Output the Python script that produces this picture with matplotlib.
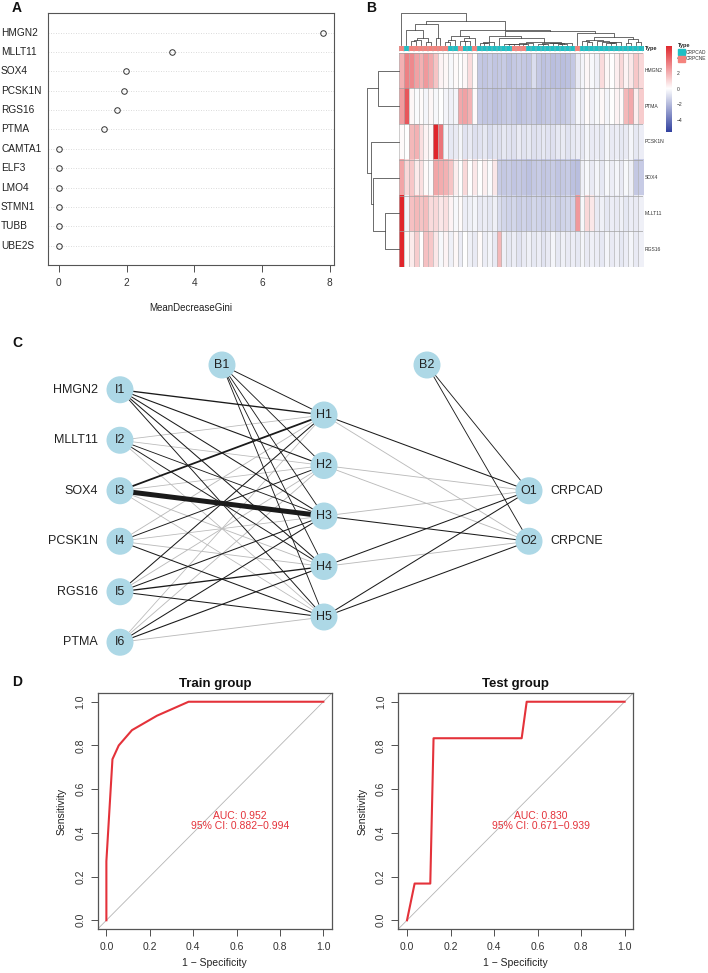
import numpy as np
import matplotlib
matplotlib.use('Agg')
import matplotlib.pyplot as plt
from matplotlib.colors import LinearSegmentedColormap, ListedColormap
from matplotlib.patches import Circle, Rectangle
from matplotlib.transforms import blended_transform_factory

plt.rcParams['font.family'] = ['Liberation Sans', 'DejaVu Sans']

# ---------------- data ----------------
# A: random forest importance
gini_genes = ['HMGN2', 'MLLT11', 'SOX4', 'PCSK1N', 'RGS16', 'PTMA',
              'CAMTA1', 'ELF3', 'LMO4', 'STMN1', 'TUBB', 'UBE2S']
gini_values = [7.81, 3.34, 1.99, 1.92, 1.73, 1.33, 0, 0, 0, 0, 0, 0]

# B: heatmap (rows in clustered order, 50 samples)
heat_genes = ['HMGN2', 'PTMA', 'PCSK1N', 'SOX4', 'MLLT11', 'RGS16']
hmgn2 = [2.0, 3.2, 3.0, 2.4, 2.0, 2.6, 2.2, 1.5, 0.3, 0.2,
         -0.2, 0.1, 0.0, 0.2, 0.9, 0.1, -1.6, -1.7, -1.5, -1.7,
         -1.6, -1.5, -1.8, -1.6, -1.5, -1.6, -1.7, -1.0, -1.6, -1.8,
         -1.7, -1.9, -1.8, -1.9, -1.8, -1.6, -0.6, -0.3, 0.2, -0.2,
         -0.4, 0.9, 0.2, 0.0, 0.4, 1.0, 0.3, 0.6, 1.4, 1.0]
ptma = [2.5, 4.3, 0.2, -0.1, 0.1, -0.3, 0.2, -0.2, 0.0, -0.3,
        -0.4, -0.3, 2.2, 2.4, 2.0, 0.1, -1.5, -1.7, -1.6, -1.8,
        -1.7, -1.6, -1.5, -1.6, -1.8, -1.7, -1.6, -1.5, -1.8, -1.7,
        -1.6, -1.5, -1.7, -1.6, -1.4, -1.1, -0.3, -0.5, 0.1, -0.4,
        -0.2, 0.2, -0.3, 0.0, 0.3, 0.1, 1.8, 2.2, 0.4, 1.3]
pcsk1n = [0.1, 0.0, 1.8, 2.0, 0.8, 0.3, 0.2, 5.6, 3.5, -0.3,
          -0.7, -0.6, -0.3, -0.8, -0.6, -0.9, -0.8, -0.7, -1.0, -0.8,
          -0.9, -0.7, -0.8, -0.9, -0.6, -0.8, -0.7, -0.9, -0.8, -0.7,
          -0.8, -0.9, -0.7, -0.6, -0.8, -0.7, -0.5, -0.7, -0.3, -0.6,
          -0.5, -0.7, -0.3, -0.6, -0.5, -0.7, -0.6, -0.3, -0.7, -0.5]
sox4 = [2.3, 1.0, 1.4, 0.5, 0.8, 0.1, -0.1, 2.3, 2.1, 2.0,
        1.5, 0.4, 0.0, 1.0, 0.0, 0.6, 0.0, 0.4, -0.1, 0.6,
        -1.5, -1.6, -1.5, -1.7, -1.6, -1.7, -1.8, -1.6, -1.5, -1.7,
        -1.6, -1.5, -1.7, -1.6, -1.5, -1.8, -1.9, -0.4, -0.2, -0.6,
        -0.3, -0.7, -0.2, -0.5, -0.3, -0.6, -0.2, -0.4, -1.6, -1.5]
mllt11 = [5.6, -0.3, 1.6, 1.8, 1.5, 1.7, 0.9, 1.0, 0.6, 0.8,
          0.3, -0.2, 0.1, -0.5, -0.4, -0.3, -0.6, -0.5, -0.7, -0.4,
          -1.0, -1.2, -1.3, -1.2, -1.4, -1.3, -1.4, -1.2, -1.3, -1.4,
          -1.3, -1.2, -1.4, -1.3, -1.2, -1.3, 2.6, -0.2, 1.0, 0.6,
          -0.6, -0.4, -0.7, -0.5, -0.6, -0.4, -0.7, -0.5, -0.6, -0.4]
rgs16 = [5.6, 0.1, 0.5, 1.3, 0.0, 1.6, 1.4, 0.6, -0.2, 0.3,
         -0.4, 0.2, -0.5, 0.0, -0.4, -0.6, 0.1, -0.5, -0.3, -0.6,
         1.8, -0.4, -0.7, -0.5, -0.8, -0.6, -0.4, -0.7, -0.5, -0.8,
         -0.6, -0.3, -0.7, -0.4, -0.6, -0.5, -0.7, -0.3, -0.6, -0.4,
         -0.5, -0.7, -0.3, -0.6, -0.4, -0.7, -0.5, -0.3, -0.6, -0.4]
# sample type: N = CRPCNE, A = CRPCAD
col_type = list('NANNNNNNNNAANAANAAAAAAANNNAAAAAAAAAANAAAAAAAAAAAAA')
type_names = {'A': 'CRPCAD', 'N': 'CRPCNE'}
# row dendrogram merges (left id, right id, height); ids >= 6 are merged clusters
row_links = [(4, 5, 0.44), (0, 1, 0.66), (3, 6, 0.81), (2, 8, 0.88), (7, 9, 1.0)]

# C: neural network
input_genes = ['HMGN2', 'MLLT11', 'SOX4', 'PCSK1N', 'RGS16', 'PTMA']
out_classes = ['CRPCAD', 'CRPCNE']
w_ih = [[1.2, 0.9, 0.8, 0.8, 0.7],
        [-0.5, -0.5, 0.6, 0.7, -0.5],
        [1.8, -0.5, 6.0, -0.6, -0.5],
        [-0.6, 0.7, -0.5, -0.6, 0.8],
        [0.8, -0.6, 0.8, 1.2, 0.8],
        [-0.5, -0.6, 0.8, 0.9, -0.6]]
w_b1 = [0.7, 0.6, 0.6, 0.6, 0.6]
w_ho = [[0.8, -0.6],
        [-0.6, -0.6],
        [-0.6, 0.8],
        [0.8, -0.6],
        [0.8, 0.8]]
w_b2 = [0.6, 0.6]

# D: ROC curves
train_fpr = [0, 0, 0.028, 0.057, 0.118, 0.233, 0.379, 1.0]
train_tpr = [0, 0.27, 0.737, 0.80, 0.87, 0.936, 1.0, 1.0]
test_fpr = [0, 0.035, 0.107, 0.122, 0.527, 0.55, 1.0]
test_tpr = [0, 0.168, 0.168, 0.833, 0.833, 1.0, 1.0]
train_auc = 'AUC: 0.952\n95% CI: 0.882\u22120.994'
test_auc = 'AUC: 0.830\n95% CI: 0.671\u22120.939'

# ---------------- figure ----------------
W, H = 708, 973
fig = plt.figure(figsize=(W / 100, H / 100), dpi=100)


def add_ax(x0, y0, x1, y1):
    return fig.add_axes([x0 / W, 1 - y1 / H, (x1 - x0) / W, (y1 - y0) / H])


def ftext(x, y, s, **kw):
    fig.text(x / W, 1 - y / H, s, **kw)


GRAY = '#555555'

# ---- A ----
axA = add_ax(48.3, 13.3, 334, 265)
n = len(gini_genes)
ypos = np.arange(n, 0, -1)
for y in ypos:
    axA.axhline(y, color='#cfcfcf', lw=0.6, ls=(0, (1, 2)), zorder=0)
axA.plot(gini_values, ypos, 'o', mfc='none', mec='#333333', ms=4, mew=0.7)
pad = 0.04 * (max(gini_values) - min(gini_values))
axA.set_xlim(min(gini_values) - pad, max(gini_values) + pad)
axA.set_ylim(0, n + 1)
axA.set_yticks([])
axA.set_xticks([0, 2, 4, 6, 8])
axA.tick_params(axis='x', direction='out', length=5, width=0.6, pad=4,
                labelsize=7.3, colors='#333333')
for s in axA.spines.values():
    s.set_color(GRAY)
    s.set_linewidth(0.8)
trA = blended_transform_factory(fig.transFigure, axA.transData)
for g, y in zip(gini_genes, ypos):
    axA.text(1 / W, y, g, transform=trA, ha='left', va='center', fontsize=7.3, color='#222222')
ftext(191, 308, 'MeanDecreaseGini', ha='center', va='center', fontsize=7, color='#222222')

# ---- B ----
M = np.array([hmgn2, ptma, pcsk1n, sox4, mllt11, rgs16])
nr, nc = M.shape
cmap = LinearSegmentedColormap.from_list('bwr2', ['#3242A0', '#FFFFFF', '#E0252B'])
vlim = 5.6
grid_col = '#b2b2b2'

axH = add_ax(399, 52.7, 643, 267)
axH.imshow(M, cmap=cmap, vmin=-vlim, vmax=vlim, aspect='auto', interpolation='nearest',
           extent=[0, nc, nr, 0])
for c in range(nc + 1):
    axH.axvline(c, color=grid_col, lw=0.45)
for r in range(nr + 1):
    axH.axhline(r, color='#a0a0a0', lw=0.5)
axH.set_xlim(0, nc)
axH.set_ylim(nr, 0)
axH.axis('off')
for i, g in enumerate(heat_genes):
    axH.text(nc + 0.4, i + 0.5, g, ha='left', va='center', fontsize=3.6, color='#333333')

type_cols = {'A': '#1FBFC4', 'N': '#F4837D'}
axT = add_ax(399, 45.5, 643, 51.5)
tv = np.array([[0 if t == 'A' else 1 for t in col_type]])
axT.imshow(tv, cmap=ListedColormap([type_cols['A'], type_cols['N']]), vmin=0, vmax=1,
           aspect='auto', interpolation='nearest', extent=[0, nc, 1, 0])
for c in range(nc + 1):
    axT.axvline(c, color=grid_col, lw=0.35)
axT.set_xlim(0, nc)
axT.axis('off')
ftext(645, 48.5, 'Type', ha='left', va='center', fontsize=4, fontweight='bold', color='#222222')


def adj_linkage(X):
    # complete-linkage clustering restricted to neighbouring clusters (keeps the order)
    clusters = [[i] for i in range(len(X))]
    ids = list(range(len(X)))
    links = []
    nxt = len(X)
    while len(clusters) > 1:
        best = None
        for k in range(len(clusters) - 1):
            d = max(np.linalg.norm(X[i] - X[j]) for i in clusters[k] for j in clusters[k + 1])
            if best is None or d < best[0]:
                best = (d, k)
        d, k = best
        links.append((ids[k], ids[k + 1], d))
        clusters[k:k + 2] = [clusters[k] + clusters[k + 1]]
        ids[k:k + 2] = [nxt]
        nxt += 1
    return links


def draw_dendro(ax, links, nleaf, orient):
    pos = {i: i + 0.5 for i in range(nleaf)}
    hgt = {i: 0.0 for i in range(nleaf)}
    nid = nleaf
    for a, b, h in links:
        xs = [pos[a], pos[a], pos[b], pos[b]]
        ys = [hgt[a], h, h, hgt[b]]
        if orient == 'top':
            ax.plot(xs, ys, color='#444444', lw=0.55, clip_on=False)
        else:
            ax.plot(ys, xs, color='#444444', lw=0.55, clip_on=False)
        pos[nid] = (pos[a] + pos[b]) / 2
        hgt[nid] = h
        nid += 1


col_links = adj_linkage(M.T)
axCD = add_ax(399, 13, 643, 45)
draw_dendro(axCD, col_links, nc, 'top')
axCD.set_xlim(0, nc)
axCD.set_ylim(0, max(l[2] for l in col_links))
axCD.axis('off')

axRD = add_ax(355, 52.7, 399, 267)
draw_dendro(axRD, row_links, nr, 'left')
axRD.set_xlim(max(l[2] for l in row_links) * 44 / 32, 0)
axRD.set_ylim(nr, 0)
axRD.axis('off')

# colour key
axK = add_ax(666, 46, 671.5, 132.5)
grad = np.linspace(-vlim, vlim, 200).reshape(-1, 1)
axK.imshow(grad, cmap=cmap, vmin=-vlim, vmax=vlim, aspect='auto', origin='lower',
           extent=[0, 1, -vlim, vlim])
axK.axis('off')
for v in [4, 2, 0, -2, -4]:
    axK.text(1.9, v, '\u2212%d' % abs(v) if v < 0 else str(v), ha='left', va='center',
             fontsize=3.6, color='#333333')

ftext(678, 46, 'Type', ha='left', va='center', fontsize=4, fontweight='bold', color='#222222')
for k, code in enumerate(['A', 'N']):
    y0 = 49 + k * 7
    fig.patches.append(Rectangle((678 / W, 1 - (y0 + 6) / H), 6.5 / W, 6 / H,
                                 transform=fig.transFigure, color=type_cols[code]))
    ftext(686, y0 + 3, type_names[code], ha='left', va='center', fontsize=3.5, color='#333333')

# ---- C ----
axN = add_ax(0, 330, 708, 660)
axN.set_xlim(0, 708)
axN.set_ylim(660, 330)
axN.axis('off')
x_in, x_b1, x_hid, x_b2, x_out = 120, 222, 324, 427, 529
yc, dy, y_bias = 516, 50.5, 365


def layer_y(k):
    return [yc + (i - (k - 1) / 2) * dy for i in range(k)]


in_xy = [(x_in, y) for y in layer_y(len(input_genes))]
hid_xy = [(x_hid, y) for y in layer_y(len(w_b1))]
out_xy = [(x_out, y) for y in layer_y(len(out_classes))]
b1_xy = (x_b1, y_bias)
b2_xy = (x_b2, y_bias)


def edge(p, q, w):
    col = '#1a1a1a' if w > 0 else '#bababa'
    axN.plot([p[0], q[0]], [p[1], q[1]], color=col, lw=0.3 + 0.55 * abs(w),
             zorder=1 if w < 0 else 2, solid_capstyle='butt')


for i, p in enumerate(in_xy):
    for j, q in enumerate(hid_xy):
        edge(p, q, w_ih[i][j])
for j, q in enumerate(hid_xy):
    edge(b1_xy, q, w_b1[j])
for j, p in enumerate(hid_xy):
    for k, q in enumerate(out_xy):
        edge(p, q, w_ho[j][k])
for k, q in enumerate(out_xy):
    edge(b2_xy, q, w_b2[k])


def node(xy, label):
    axN.add_patch(Circle(xy, 13.5, color='#ADD8E6', zorder=5, lw=0))
    axN.text(xy[0], xy[1], label, ha='center', va='center', fontsize=9, color='#222222', zorder=6)


for i, p in enumerate(in_xy):
    node(p, 'I%d' % (i + 1))
    axN.text(p[0] - 22, p[1], input_genes[i], ha='right', va='center', fontsize=9, color='#222222')
for j, p in enumerate(hid_xy):
    node(p, 'H%d' % (j + 1))
for k, p in enumerate(out_xy):
    node(p, 'O%d' % (k + 1))
    axN.text(p[0] + 21, p[1], out_classes[k], ha='left', va='center', fontsize=9, color='#222222')
node(b1_xy, 'B1')
node(b2_xy, 'B2')

# ---- D ----
def roc_panel(box, fpr, tpr, title, auc_text):
    ax = add_ax(*box)
    ax.plot([-0.1, 1.1], [-0.1, 1.1], color='#b5b5b5', lw=0.6)
    ax.plot(fpr, tpr, color='#E4323A', lw=1.5)
    ax.set_xlim(-0.04, 1.04)
    ax.set_ylim(-0.04, 1.04)
    ticks = [0, 0.2, 0.4, 0.6, 0.8, 1.0]
    ax.set_xticks(ticks)
    ax.set_yticks(ticks)
    ax.set_xticklabels(['%.1f' % t for t in ticks])
    ax.set_yticklabels(['%.1f' % t for t in ticks], rotation=90, va='center')
    ax.tick_params(direction='out', length=5, width=0.6, pad=4, labelsize=7.5, colors='#333333')
    for s in ax.spines.values():
        s.set_color(GRAY)
        s.set_linewidth(0.9)
    ax.set_xlabel('1 \u2212 Specificity', fontsize=7.5, labelpad=5, color='#222222')
    ax.set_ylabel('Sensitivity', fontsize=7.5, labelpad=6, color='#222222')
    ax.set_title(title, fontsize=9.5, fontweight='bold', pad=4, color='#111111')
    ax.text(0.615, 0.455, auc_text, ha='center', va='center', fontsize=7.5,
            color='#E4323A', linespacing=1.0)
    return ax


roc_panel((97.7, 693, 332, 929), train_fpr, train_tpr, 'Train group', train_auc)
roc_panel((398.3, 693, 633.3, 929), test_fpr, test_tpr, 'Test group', test_auc)

# panel letters
for lab, (x, y) in {'A': (17, 7.5), 'B': (371, 7.5), 'C': (17, 343), 'D': (17, 682)}.items():
    ftext(x, y, lab, ha='center', va='center', fontsize=10, fontweight='bold', color='#111111')

fig.savefig('out.png', dpi=100)
